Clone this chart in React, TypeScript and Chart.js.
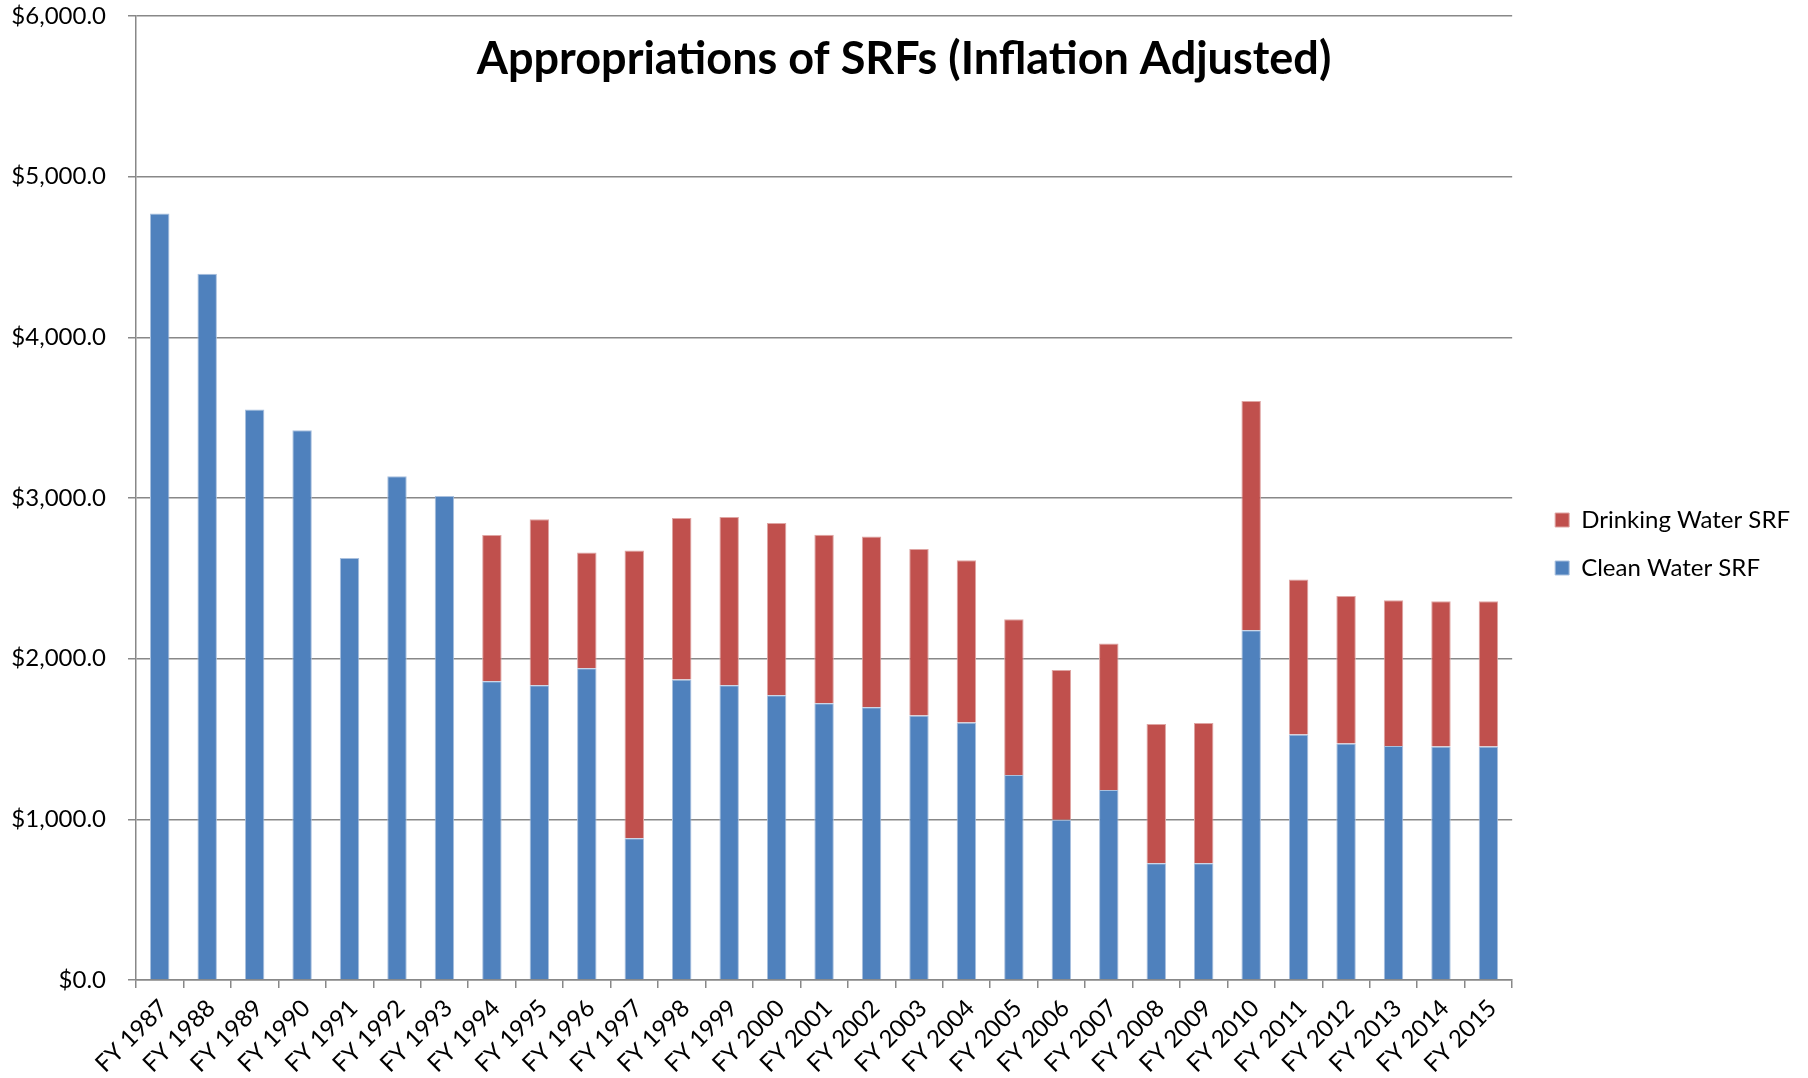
import { useEffect, useRef } from "react";
import { Chart, registerables } from "chart.js";

Chart.register(...registerables);

const categories = [
  "FY 1987", "FY 1988", "FY 1989", "FY 1990", "FY 1991", "FY 1992", "FY 1993",
  "FY 1994", "FY 1995", "FY 1996", "FY 1997", "FY 1998", "FY 1999", "FY 2000",
  "FY 2001", "FY 2002", "FY 2003", "FY 2004", "FY 2005", "FY 2006", "FY 2007",
  "FY 2008", "FY 2009", "FY 2010", "FY 2011", "FY 2012", "FY 2013", "FY 2014",
  "FY 2015",
];

const cleanWaterSRF = [
  4771, 4395, 3551, 3421, 2626, 3136, 3012,
  1859, 1834, 1940, 882, 1871, 1834, 1772,
  1722, 1697, 1646, 1603, 1276, 997, 1183,
  726, 726, 2177, 1528, 1472, 1456, 1453,
  1453,
];

const drinkingWaterSRF = [
  null, null, null, null, null, null, null,
  910, 1033, 721, 1792, 1005, 1048, 1072,
  1050, 1064, 1036, 1009, 970, 932, 912,
  867, 873, 1426, 964, 918, 908, 905,
  905,
];

const yTickValues = [0, 1000, 2000, 3000, 4000, 5000, 6000];
const chartTitle = "Appropriations of SRFs (Inflation Adjusted)";
const seriesNames = ["Clean Water SRF", "Drinking Water SRF"];

const FONT = "Lato";

const titlePlugin = {
  id: "overlayTitle",
  afterDraw(chart: any) {
    const ctx = chart.ctx;
    ctx.save();
    ctx.font = `bold 45px ${FONT}`;
    ctx.fillStyle = "#000";
    ctx.textAlign = "center";
    ctx.textBaseline = "alphabetic";
    ctx.fillText(chartTitle, chart.width / 2, 74);
    ctx.restore();
  },
};

export default function App() {
  const ref = useRef<HTMLCanvasElement | null>(null);

  useEffect(() => {
    if (!ref.current) return;
    const chart = new Chart(ref.current, {
      type: "bar",
      data: {
        labels: categories,
        datasets: [
          {
            label: seriesNames[0],
            data: cleanWaterSRF,
            backgroundColor: "#4F81BD",
            borderColor: "#A9C0DE",
            borderWidth: 1,
            barPercentage: 0.41,
            categoryPercentage: 1,
          },
          {
            label: seriesNames[1],
            data: drinkingWaterSRF as any,
            backgroundColor: "#C0504D",
            borderColor: "#DFA5A3",
            borderWidth: 1,
            barPercentage: 0.41,
            categoryPercentage: 1,
          },
        ],
      },
      options: {
        responsive: false,
        animation: false,
        layout: { padding: { top: 16, left: 0, bottom: 0, right: 8 } },
        plugins: {
          tooltip: { enabled: false },
          legend: {
            position: "right",
            align: "start",
            reverse: true,
            title: {
              display: true,
              text: " ",
              font: { size: 10, lineHeight: 1 },
              padding: { top: 458, bottom: 0 },
            },
            labels: {
              boxWidth: 14,
              boxHeight: 14,
              padding: 24,
              color: "#000",
              font: { family: FONT, size: 24 },
            },
          },
        },
        scales: {
          x: {
            stacked: true,
            offset: true,
            grid: {
              display: true,
              drawOnChartArea: false,
              drawTicks: true,
              tickLength: 8,
              color: "#888",
              lineWidth: 1.5,
              offset: true,
            },
            border: { display: true, color: "#888", width: 1.5 },
            ticks: {
              autoSkip: false,
              maxRotation: 45,
              minRotation: 45,
              color: "#000",
              font: { family: FONT, size: 24 },
              padding: 6,
              labelOffset: 4,
            },
            afterFit: (s: any) => {
              s.height = 98;
            },
          },
          y: {
            stacked: true,
            min: 0,
            max: 6000,
            afterBuildTicks: (s: any) => {
              s.ticks = yTickValues.map((v) => ({ value: v }));
            },
            grid: {
              color: "#888",
              lineWidth: 1.5,
              tickLength: 8,
              drawTicks: true,
            },
            border: { display: true, color: "#888", width: 1.5 },
            ticks: {
              color: "#000",
              padding: 22,
              font: { family: FONT, size: 24 },
              callback: (v: any) =>
                "$" +
                Number(v).toLocaleString("en-US", {
                  minimumFractionDigits: 1,
                  maximumFractionDigits: 1,
                }),
            },
            afterFit: (s: any) => {
              s.width = 136;
              s.paddingTop = 0;
              s.paddingBottom = 0;
            },
          },
          pad: {
            type: "linear",
            position: "right",
            display: true,
            grid: { display: false },
            border: { display: false },
            ticks: { display: false },
            afterFit: (s: any) => {
              s.width = 19;
            },
          },
        },
      },
      plugins: [titlePlugin],
    } as any);
    return () => chart.destroy();
  }, []);

  return (
    <div style={{ position: "absolute", left: 0, top: 0, width: 1808, height: 1078 }}>
      <canvas ref={ref} width={1808} height={1078} />
    </div>
  );
}
